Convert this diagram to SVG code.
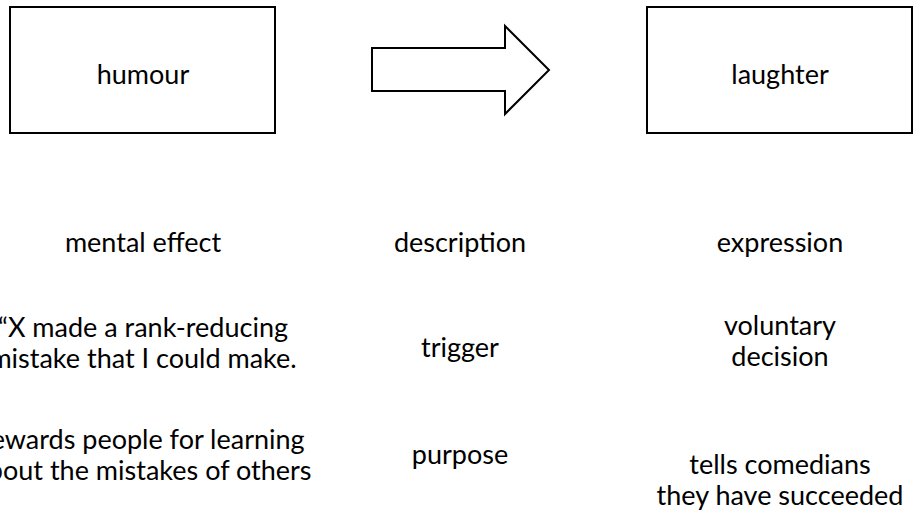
<svg xmlns="http://www.w3.org/2000/svg" width="914" height="511" viewBox="0 0 914 511">
<style>
  .box { fill: #ffffff; stroke: #000000; stroke-width: 2; }
  .t { font-family: Lato, "Open Sans", "Liberation Sans", sans-serif; font-size: 27px; fill: #000000; text-anchor: middle; }
</style>
<rect x="0" y="0" width="914" height="511" fill="#ffffff"/>
<g id="humour">
  <rect class="box" x="10" y="7" width="265" height="126"/>
  <text class="t" x="143" y="84">humour</text>
</g>
<g id="laughter">
  <rect class="box" x="647" y="7" width="265" height="126"/>
  <text class="t" x="780" y="84">laughter</text>
</g>
<g id="connectors">
  <polygon class="box" points="372,48 505,48 505,26 549,70 505,114 505,91 372,91"/>
</g>
<g id="labels">
  <text class="t" x="143" y="252">mental effect</text>
  <text class="t" x="460" y="252">description</text>
  <text class="t" x="780" y="252">expression</text>
  <text class="t" x="143" y="337">“X made a rank-reducing</text>
  <text class="t" x="143" y="368">mistake that I could make.</text>
  <text class="t" x="460" y="357">trigger</text>
  <text class="t" x="780" y="335">voluntary</text>
  <text class="t" x="780" y="366">decision</text>
  <text class="t" x="143" y="449">rewards people for learning</text>
  <text class="t" x="143" y="480">about the mistakes of others</text>
  <text class="t" x="460" y="464">purpose</text>
  <text class="t" x="780" y="474">tells comedians</text>
  <text class="t" x="780" y="505">they have succeeded</text>
</g>
</svg>
